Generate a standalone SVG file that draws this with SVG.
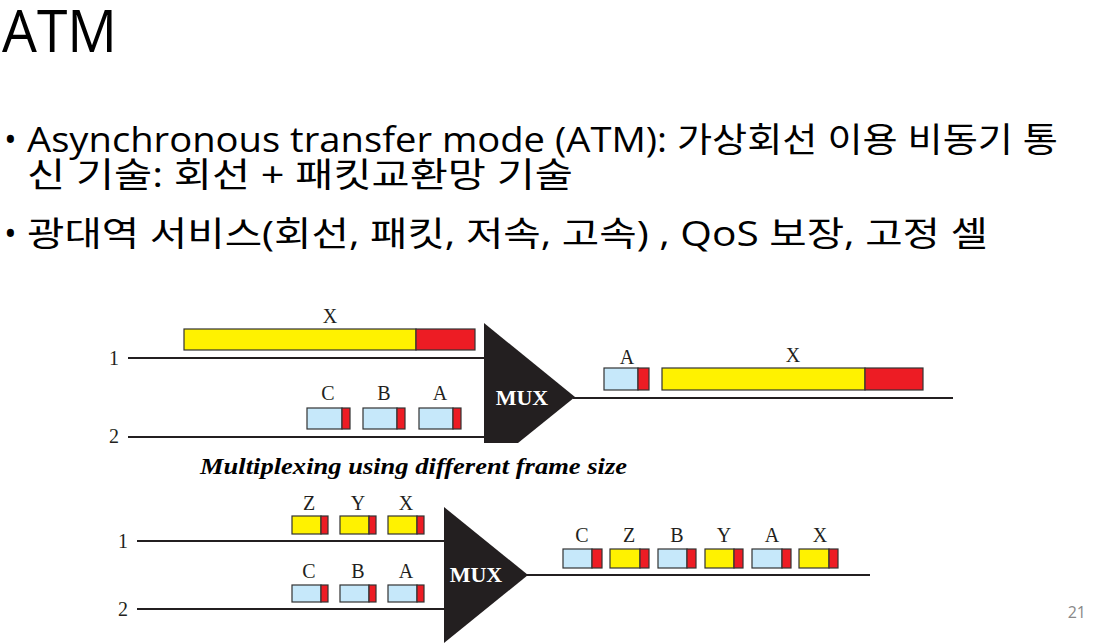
<svg xmlns="http://www.w3.org/2000/svg" width="1095" height="644" viewBox="0 0 1095 644">
<style>
.h{font-family:"Open Sans","Noto Sans CJK KR",sans-serif;fill:#000}
.lbl{font-family:"Liberation Serif","Times New Roman",serif;font-size:20px;fill:#231f20;text-anchor:middle}
.mux{font-family:"Liberation Serif","Times New Roman",serif;font-size:22px;font-weight:bold;fill:#fff;text-anchor:middle}
.ln{stroke:#231f20;stroke-width:2;fill:none}
.y{fill:#fff200;stroke:#333;stroke-width:1.2}
.r{fill:#ed1c24;stroke:#333;stroke-width:1.2}
.b{fill:#c6e8fa;stroke:#333;stroke-width:1.2}
.tri{fill:#231f20}
</style>
<rect width="1095" height="644" fill="#fff"/>
<g id="title">
<text class="h" x="2" y="52" font-size="58" textLength="115" lengthAdjust="spacingAndGlyphs">ATM</text>
</g>
<g id="bullets">
<text class="h" x="4" y="152" font-size="34">•</text>
<text class="h" x="27" y="152" font-size="34" textLength="1031" lengthAdjust="spacingAndGlyphs">Asynchronous transfer mode (ATM): 가상회선 이용 비동기 통</text>
<text class="h" x="27" y="187" font-size="34" textLength="546" lengthAdjust="spacingAndGlyphs">신 기술: 회선 + 패킷교환망 기술</text>
<text class="h" x="4" y="246" font-size="34">•</text>
<text class="h" x="27" y="246" font-size="34" textLength="961" lengthAdjust="spacingAndGlyphs">광대역 서비스(회선, 패킷, 저속, 고속) , QoS 보장, 고정 셀</text>
</g>
<g id="connectors">
<line class="ln" x1="128" y1="358" x2="486" y2="358"/>
<line class="ln" x1="128" y1="437" x2="486" y2="437"/>
<line class="ln" x1="573" y1="398" x2="953" y2="398"/>
<line class="ln" x1="137" y1="541" x2="446" y2="541"/>
<line class="ln" x1="137" y1="609" x2="446" y2="609"/>
<line class="ln" x1="526" y1="575" x2="870" y2="575"/>
</g>
<g id="mux1">
<polygon class="tri" points="484,323 575,397 518,443 484,443"/>
<text class="mux" x="522" y="405">MUX</text>
</g>
<g id="mux2">
<polygon class="tri" points="444,507 528,575 444,643"/>
<text class="mux" x="476" y="582">MUX</text>
</g>
<g id="top-inputs">
<text class="lbl" x="114" y="365">1</text>
<text class="lbl" x="114" y="443">2</text>
<rect class="y" x="184" y="329" width="232" height="21"/>
<rect class="r" x="416" y="329" width="59" height="21"/>
<text class="lbl" x="330" y="323">X</text>
<rect class="b" x="307" y="408" width="35" height="21"/><rect class="r" x="342" y="408" width="8" height="21"/>
<rect class="b" x="363" y="408" width="34" height="21"/><rect class="r" x="397" y="408" width="8" height="21"/>
<rect class="b" x="419" y="408" width="34" height="21"/><rect class="r" x="453" y="408" width="8" height="21"/>
<text class="lbl" x="328" y="400">C</text>
<text class="lbl" x="384" y="400">B</text>
<text class="lbl" x="440" y="400">A</text>
</g>
<g id="top-output">
<rect class="b" x="604" y="368" width="34" height="22"/><rect class="r" x="638" y="368" width="11" height="22"/>
<text class="lbl" x="627" y="364">A</text>
<rect class="y" x="662" y="368" width="203" height="22"/><rect class="r" x="865" y="368" width="58" height="22"/>
<text class="lbl" x="793" y="362">X</text>
</g>
<g id="caption">
<text x="200" y="474" font-family="'Liberation Serif','Times New Roman',serif" font-size="23" font-weight="bold" font-style="italic" fill="#000" textLength="427" lengthAdjust="spacingAndGlyphs">Multiplexing using different frame size</text>
</g>
<g id="bottom-inputs">
<text class="lbl" x="123" y="548">1</text>
<text class="lbl" x="123" y="616">2</text>
<rect class="y" x="292" y="516" width="29" height="18"/><rect class="r" x="321" y="516" width="7" height="18"/>
<rect class="y" x="340" y="516" width="29" height="18"/><rect class="r" x="369" y="516" width="7" height="18"/>
<rect class="y" x="388" y="516" width="29" height="18"/><rect class="r" x="417" y="516" width="7" height="18"/>
<text class="lbl" x="309" y="510">Z</text>
<text class="lbl" x="358" y="510">Y</text>
<text class="lbl" x="406" y="510">X</text>
<rect class="b" x="292" y="585" width="29" height="17"/><rect class="r" x="321" y="585" width="7" height="17"/>
<rect class="b" x="340" y="585" width="29" height="17"/><rect class="r" x="369" y="585" width="7" height="17"/>
<rect class="b" x="388" y="585" width="29" height="17"/><rect class="r" x="417" y="585" width="7" height="17"/>
<text class="lbl" x="309" y="578">C</text>
<text class="lbl" x="358" y="578">B</text>
<text class="lbl" x="406" y="578">A</text>
</g>
<g id="bottom-output">
<rect class="b" x="563" y="549" width="29" height="19"/><rect class="r" x="592" y="549" width="10" height="19"/>
<rect class="y" x="610" y="549" width="30" height="19"/><rect class="r" x="640" y="549" width="9" height="19"/>
<rect class="b" x="658" y="549" width="29" height="19"/><rect class="r" x="687" y="549" width="9" height="19"/>
<rect class="y" x="705" y="549" width="29" height="19"/><rect class="r" x="734" y="549" width="9" height="19"/>
<rect class="b" x="752" y="549" width="30" height="19"/><rect class="r" x="782" y="549" width="9" height="19"/>
<rect class="y" x="799" y="549" width="30" height="19"/><rect class="r" x="829" y="549" width="9" height="19"/>
<text class="lbl" x="582" y="542">C</text>
<text class="lbl" x="629" y="542">Z</text>
<text class="lbl" x="677" y="542">B</text>
<text class="lbl" x="724" y="542">Y</text>
<text class="lbl" x="772" y="542">A</text>
<text class="lbl" x="820" y="542">X</text>
</g>
<g id="page">
<text x="1086" y="618" font-family="'Open Sans',sans-serif" font-size="16" fill="#888" text-anchor="end">21</text>
</g>
</svg>
